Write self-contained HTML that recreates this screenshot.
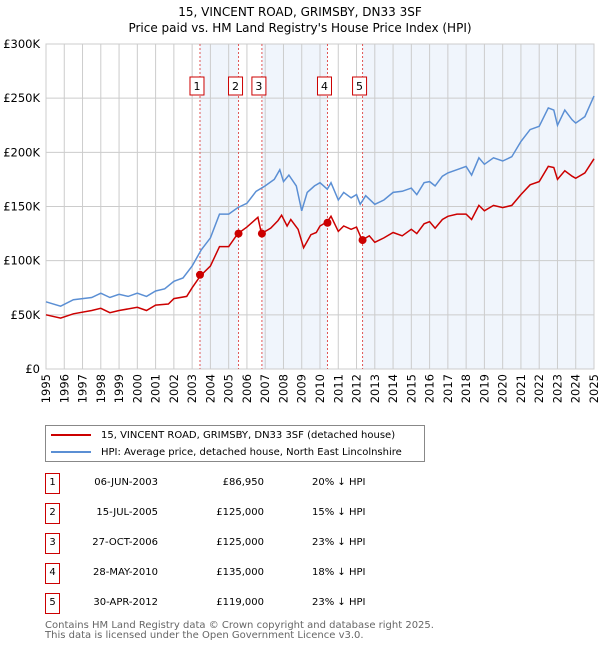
<!DOCTYPE html>
<html><head><meta charset="utf-8"><style>
body{margin:0;background:#fff;font-family:"DejaVu Sans","Liberation Sans",sans-serif;}
</style></head><body>
<div style="position:relative;width:600px;height:650px;overflow:hidden">
<svg id="chart" width="600" height="420" style="position:absolute;left:0;top:0"></svg>
<div style="position:absolute;left:45px;top:425px;width:378px;height:35px;border:1px solid #888;font-size:10px">
 <div style="position:absolute;left:5px;top:4px;white-space:nowrap"><span style="display:inline-block;width:40px;height:2px;background:#cc0000;vertical-align:middle;margin-right:10px"></span>15, VINCENT ROAD, GRIMSBY, DN33 3SF (detached house)</div>
 <div style="position:absolute;left:5px;top:21px;white-space:nowrap"><span style="display:inline-block;width:40px;height:2px;background:#5b8fd4;vertical-align:middle;margin-right:10px"></span>HPI: Average price, detached house, North East Lincolnshire</div>
</div>
<div id="table"></div>
<div style="position:absolute;left:45px;top:621px;font-size:10px;color:#666;line-height:10px;white-space:nowrap">Contains HM Land Registry data © Crown copyright and database right 2025.<br>This data is licensed under the Open Government Licence v3.0.</div>
</div>
<script>
const hpiYears=[1995,1995.8,1996.5,1997.5,1998,1998.5,1999,1999.5,2000,2000.5,2001,2001.5,2002,2002.5,2003,2003.5,2004,2004.5,2005,2005.5,2006,2006.5,2007,2007.5,2007.8,2008,2008.3,2008.7,2009,2009.3,2009.7,2010,2010.4,2010.6,2011,2011.3,2011.7,2012,2012.2,2012.5,2013,2013.5,2014,2014.5,2015,2015.3,2015.7,2016,2016.3,2016.7,2017,2017.5,2018,2018.3,2018.7,2019,2019.5,2020,2020.5,2021,2021.5,2022,2022.5,2022.8,2023,2023.4,2023.8,2024,2024.5,2025];
const hpiValues=[62,58,64,66,70,66,69,67,70,67,72,74,81,84,95,110,121,143,143,149,153,164,169,175,184,173,179,169,146,163,169,172,166,172,156,163,158,161,152,160,152,156,163,164,167,161,172,173,169,178,181,184,187,179,195,189,195,192,196,210,221,224,241,239,225,239,230,227,233,252];
const ppYears=[1995,1995.8,1996.5,1997.5,1998,1998.5,1999,2000,2000.5,2001,2001.7,2002,2002.7,2003,2003.45,2004,2004.5,2005,2005.5,2006,2006.6,2006.8,2007.3,2007.7,2007.9,2008.2,2008.4,2008.8,2009.1,2009.5,2009.8,2010,2010.4,2010.6,2011,2011.3,2011.7,2012,2012.3,2012.7,2013,2013.5,2014,2014.5,2015,2015.3,2015.7,2016,2016.3,2016.7,2017,2017.5,2018,2018.3,2018.7,2019,2019.5,2020,2020.5,2021,2021.5,2022,2022.5,2022.8,2023,2023.4,2023.8,2024,2024.5,2025];
const ppValues=[50,47,51,54,56,52,54,57,54,59,60,65,67,75,86,95,113,113,125,131,140,125,130,137,142,132,138,129,112,124,126,132,136,141,127,132,129,131,119,123,117,121,126,123,129,125,134,136,130,138,141,143,143,138,151,146,151,149,151,161,170,173,187,186,175,183,178,176,181,194];
const saleLabels=["1","2","3","4","5"];
const saleDates=[2003.43,2005.54,2006.82,2010.41,2012.33];
const salePrices=[86.95,125,125,135,119];
const saleDateText=["06-JUN-2003","15-JUL-2005","27-OCT-2006","28-MAY-2010","30-APR-2012"];
const salePriceText=["£86,950","£125,000","£125,000","£135,000","£119,000"];
const saleHpiText=["20% ↓ HPI","15% ↓ HPI","23% ↓ HPI","18% ↓ HPI","23% ↓ HPI"];
const yTicks=[0,50,100,150,200,250,300];
const yTickLabels=["£0","£50K","£100K","£150K","£200K","£250K","£300K"];
const xTicks=[1995,1996,1997,1998,1999,2000,2001,2002,2003,2004,2005,2006,2007,2008,2009,2010,2011,2012,2013,2014,2015,2016,2017,2018,2019,2020,2021,2022,2023,2024,2025];

const FF='DejaVu Sans, Liberation Sans, sans-serif';
const L=46,R=594,T=44,B=369;
const X=v=>L+(v-1995)/30*(R-L);
const Y=v=>B-v/300*(B-T);
const svg=document.getElementById('chart');
const NS='http://www.w3.org/2000/svg';
function mk(tag,attrs,parent){const e=document.createElementNS(NS,tag);for(const k in attrs)e.setAttribute(k,attrs[k]);(parent||svg).appendChild(e);return e;}
let e;
e=mk('text',{x:300,y:16,'text-anchor':'middle','font-size':12,'font-family':FF});e.textContent='15, VINCENT ROAD, GRIMSBY, DN33 3SF';


e=mk('text',{x:300,y:32,'text-anchor':'middle','font-size':12,'font-family':FF});e.textContent="Price paid vs. HM Land Registry's House Price Index (HPI)";


for(let i=0;i<saleDates.length;i+=2){
  const end=i+1<saleDates.length?saleDates[i+1]:2025;
  e=mk('rect',{x:X(saleDates[i]),y:T,width:X(end)-X(saleDates[i]),height:B-T,fill:'#f0f5fc'});
  
  
}
xTicks.forEach((t,i)=>{
  e=mk('line',{x1:X(t),x2:X(t),y1:T,y2:B,stroke:'#cccccc','stroke-width':1});
  
  
  e=mk('text',{x:0,y:0,transform:`translate(${X(t)+4},${B+5}) rotate(-90)`,'text-anchor':'end','font-size':11.5,'font-family':FF});
  e.textContent=t;
  
  
});
yTicks.forEach((t,i)=>{
  e=mk('line',{x1:L,x2:R,y1:Y(t),y2:Y(t),stroke:'#cccccc','stroke-width':1});
  
  
  e=mk('text',{x:L-6,y:Y(t)+4,'text-anchor':'end','font-size':11.5,'font-family':FF});
  e.textContent=yTickLabels[i];
  
  
});
e=mk('rect',{x:L,y:T,width:R-L,height:B-T,fill:'none',stroke:'#cccccc'});


saleDates.forEach((d,i)=>{
  e=mk('line',{x1:X(d),x2:X(d),y1:T,y2:B,stroke:'#e05555','stroke-width':1,'stroke-dasharray':'2,2'});
  
  
  const g=mk('g',{});
  
  
  mk('rect',{x:X(d)-10,y:77,width:14,height:18,fill:'#fff',stroke:'#cc0000'},g);
  const tx=mk('text',{x:X(d)-3,y:90,'text-anchor':'middle','font-size':11,'font-family':FF},g);
  tx.textContent=saleLabels[i];
});
function path(xs,ys){return xs.map((x,i)=>(i?'L':'M')+X(x).toFixed(1)+','+Y(ys[i]).toFixed(1)).join(' ');}
e=mk('path',{d:path(hpiYears,hpiValues),fill:'none',stroke:'#5b8fd4','stroke-width':1.5});


e=mk('path',{d:path(ppYears,ppValues),fill:'none',stroke:'#cc0000','stroke-width':1.5});


saleDates.forEach((d,i)=>{
  e=mk('circle',{cx:X(d),cy:Y(salePrices[i]),r:4,fill:'#cc0000'});
  
  
});
const tb=document.getElementById('table');
saleLabels.forEach((l,i)=>{
  const y=473+i*30;
  const row=document.createElement('div');
  
  
  row.style.cssText=`position:absolute;left:0;top:${y}px;width:600px;height:22px;font-size:10px`;
  row.innerHTML=`<div style="position:absolute;left:45px;top:0;width:13px;height:19px;border:1px solid #cc0000;text-align:center;line-height:17px">${l}</div>`+
   `<div style="position:absolute;left:60px;width:98px;top:4px;text-align:right">${saleDateText[i]}</div>`+
   `<div style="position:absolute;left:160px;width:104px;top:4px;text-align:right">${salePriceText[i]}</div>`+
   `<div style="position:absolute;left:312px;top:4px">${saleHpiText[i]}</div>`;
  tb.appendChild(row);
});
</script>
</body></html>
